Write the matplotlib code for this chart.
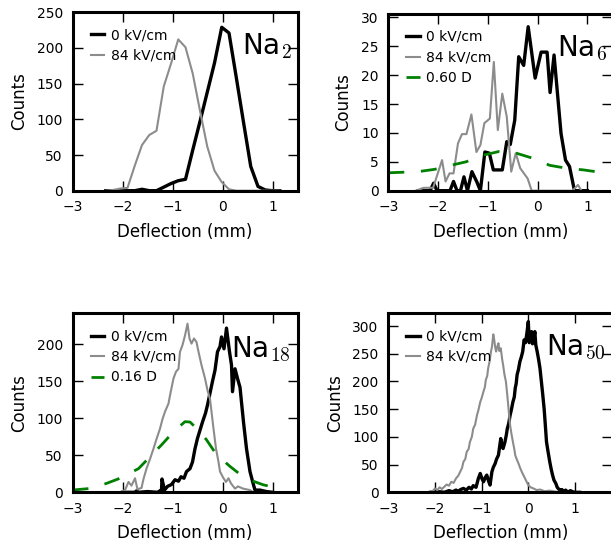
import matplotlib
matplotlib.use("Agg")
import matplotlib.pyplot as plt

plt.rcParams['font.family'] = ['DejaVu Sans']
plt.rcParams['mathtext.fontset'] = 'cm'
plt.rcParams['lines.scale_dashes'] = False

# ---------------- data ----------------
# Na2
x2 = [-2.335, -2.19, -2.045, -1.9, -1.755, -1.61, -1.465, -1.32, -1.175, -1.03,
      -0.885, -0.74, -0.595, -0.45, -0.305, -0.16, -0.015, 0.13, 0.275, 0.42,
      0.565, 0.71, 0.855, 1.0, 1.145]
y2_0kv = [0, 0, 0, 0, 0, 2, 0, 0, 5, 10, 14, 16, 57, 97, 138, 179, 229, 221, 159,
          96, 34, 6, 1, 0, 0]
y2_84kv = [0, 1, 3, 4, 35, 64, 78, 84, 146, 178, 212, 201, 164, 112, 62, 28, 12,
           2, 0, 0, 0, 0, 0, 0, 0]

# Na6
x6_0kv = [-2.40, -2.16, -2.09, -2.02, -1.76, -1.69, -1.62, -1.55, -1.48, -1.41,
          -1.32, -1.22, -1.15, -1.06, -0.97, -0.89, -0.71, -0.62, -0.55, -0.46,
          -0.38, -0.28, -0.19, -0.05, 0.07, 0.19, 0.25, 0.33, 0.47, 0.56, 0.64,
          0.74, 1.0]
y6_0kv = [0, 0, 1.3, 0, 0, 1.6, 0, 0, 2.4, 0, 3.3, 1.5, 0, 6.7, 6.5, 3.6, 3.6,
          8.5, 8.0, 12.2, 23.2, 21.7, 28.4, 19.5, 24.0, 24.0, 17.0, 23.5, 9.9,
          5.3, 4.2, 0, 0]
x6_84kv = [-2.45, -2.29, -2.10, -1.92, -1.85, -1.77, -1.69, -1.60, -1.52, -1.43,
           -1.33, -1.23, -1.15, -1.07, -0.96, -0.88, -0.80, -0.71, -0.62, -0.53,
           -0.44, -0.35, -0.20, -0.12, 0.70, 0.81, 0.88]
y6_84kv = [0, 0.5, 0.5, 5.3, 1.6, 3.0, 3.0, 8.2, 9.8, 9.8, 13.2, 6.7, 7.9, 11.7,
           12.5, 22.3, 10.5, 16.8, 12.8, 3.3, 6.5, 3.9, 2.1, 0, 0, 1.0, 0]
x6_sim = [-3.0, -2.4, -2.07, -1.74, -1.44, -1.07, -0.77, -0.43, -0.09, 0.24, 0.57,
          0.92, 1.25, 1.5]
y6_sim = [3.1, 3.3, 3.7, 4.4, 5.0, 6.2, 6.8, 6.5, 5.6, 4.4, 3.9, 3.6, 3.2, 3.0]

# Na18
x18_0kv = [-2.0, -1.75, -1.72, -1.68, -1.5, -1.3, -1.25, -1.22, -1.21, -1.16,
           -1.10, -1.02, -0.95, -0.88, -0.83, -0.77, -0.72, -0.65, -0.60, -0.55,
           -0.50, -0.45, -0.40, -0.34, -0.30, -0.25, -0.20, -0.15, -0.10, -0.05,
           -0.02, 0.03, 0.08, 0.14, 0.18, 0.20, 0.25, 0.30, 0.35, 0.42, 0.48,
           0.55, 0.62, 0.65, 0.75, 0.88, 1.0]
y18_0kv = [0, 0, 2, 0, 1, 0, 2, 3, 18, 3, 8, 10.5, 17, 15, 21, 19, 28, 32, 41, 59,
           73, 84, 95, 107, 118, 134, 150, 165, 190, 197, 210, 194, 222, 190, 172,
           136, 167, 154, 142, 95, 59, 28, 10, 3, 3, 1, 0]
x18_84kv = [-2.3, -2.05, -1.95, -1.88, -1.82, -1.75, -1.70, -1.62, -1.58, -1.52,
            -1.45, -1.38, -1.32, -1.25, -1.20, -1.15, -1.08, -1.05, -0.98, -0.93,
            -0.88, -0.85, -0.80, -0.75, -0.70, -0.66, -0.62, -0.57, -0.52, -0.48,
            -0.42, -0.35, -0.30, -0.25, -0.22, -0.18, -0.13, -0.08, -0.05, 0.02,
            0.07, 0.12, 0.17, 0.25, 0.31, 0.41, 0.55, 0.62, 0.8]
y18_84kv = [0, 0, 3, 14, 9, 19, 4, 6, 18, 32, 45, 59, 72, 86, 99, 109, 120, 131,
            154, 163, 167, 190, 199, 212, 228, 208, 201, 208, 203, 190, 172, 154,
            138, 126, 109, 86, 59, 41, 28, 19, 14, 19, 12, 5, 8, 5, 3, 0, 0]
x18_sim = [-3.0, -2.68, -2.32, -2.05, -1.68, -1.22, -0.98, -0.75, -0.65, -0.48,
           -0.32, -0.12, 0.15, 0.45, 0.82, 1.1]
y18_sim = [3, 5, 12, 19, 32, 64, 82, 95.5, 95, 84, 71, 51, 35, 19, 10, 6]

# Na50
x50_0kv = [-2.1, -1.9, -1.8, -1.7, -1.62, -1.55, -1.5, -1.45, -1.39, -1.33, -1.27,
           -1.22, -1.18, -1.12, -1.07, -1.03, -0.99, -0.96, -0.92, -0.89, -0.85,
           -0.82, -0.78, -0.75, -0.71, -0.68, -0.64, -0.61, -0.59, -0.56, -0.54,
           -0.5, -0.47, -0.45, -0.42, -0.39, -0.36, -0.33, -0.3, -0.28, -0.26,
           -0.24, -0.21, -0.18, -0.15, -0.12, -0.09, -0.06, -0.03, 0.0, 0.02,
           0.04, 0.07, 0.09, 0.11, 0.14, 0.16, 0.19, 0.22, 0.25, 0.28, 0.31, 0.34,
           0.36, 0.39, 0.42, 0.46, 0.49, 0.52, 0.55, 0.59, 0.62, 0.64, 0.68, 0.72,
           0.76, 0.8, 0.85, 0.9, 0.95, 1.0, 1.1]
y50_0kv = [0, 1, 0, 3, 1, 4, 2, 5, 7, 4, 9, 6, 12, 9, 25, 34, 24, 19, 27, 31, 20,
           13, 37, 45, 52, 60, 67, 85, 97, 82, 79, 91, 104, 115, 124, 139, 150,
           163, 172, 188, 196, 212, 222, 236, 244, 254, 275, 270, 287, 308, 270,
           278, 290, 268, 272, 290, 266, 254, 240, 224, 200, 176, 150, 127, 91,
           75, 55, 42, 31, 22, 16, 9, 7, 3, 5, 1, 4, 0, 3, 1, 0, 0]
x50_84kv = [-2.15, -2.05, -2.0, -1.95, -1.9, -1.85, -1.8, -1.75, -1.7, -1.65,
            -1.6, -1.55, -1.5, -1.46, -1.42, -1.39, -1.35, -1.32, -1.28, -1.25,
            -1.21, -1.18, -1.14, -1.1, -1.07, -1.03, -1.0, -0.96, -0.93, -0.91,
            -0.88, -0.86, -0.83, -0.8, -0.78, -0.75, -0.73, -0.71, -0.69, -0.66,
            -0.64, -0.62, -0.59, -0.56, -0.54, -0.51, -0.48, -0.45, -0.43, -0.41,
            -0.39, -0.36, -0.33, -0.3, -0.28, -0.25, -0.21, -0.18, -0.14, -0.1,
            -0.07, -0.03, 0.0, 0.05, 0.11, 0.18, 0.25, 0.35, 0.46, 0.6, 0.8, 1.0]
y50_84kv = [0, 2, 7, 4, 9, 6, 10, 14, 12, 19, 17, 25, 30, 37, 44, 55, 60, 73, 78,
            91, 100, 115, 122, 139, 148, 163, 170, 182, 190, 203, 210, 224, 236,
            254, 262, 285, 275, 262, 254, 264, 269, 255, 260, 240, 230, 212, 200,
            175, 157, 138, 121, 105, 91, 78, 67, 60, 52, 45, 37, 30, 25, 18, 13,
            9, 7, 4, 5, 2, 3, 1, 0, 0]

field_labels = ['0 kV/cm', '84 kV/cm']
sim_labels = {'Na6': '0.60 D', 'Na18': '0.16 D'}
x_ticks = [-3, -2, -1, 0, 1]

# ---------------- figure ----------------
fig = plt.figure(figsize=(6.11, 5.44), dpi=100)

W, H = 611.0, 544.0
def pos(l, r, t, b):
    return [l / W, (H - b) / H, (r - l) / W, (b - t) / H]

panels = [
    dict(rect=pos(72.5, 297.5, 12.3, 190.7), name='Na$_{2}$', xs=(x2, x2),
         ys=(y2_0kv, y2_84kv), sim=None, xlim=(-3, 1.5), ylim=(0, 250),
         yticks=[0, 50, 100, 150, 200, 250], txt=(0.752, 0.762)),
    dict(rect=pos(388.3, 612.3, 14.0, 190.7), name='Na$_{6}$', xs=(x6_0kv, x6_84kv),
         ys=(y6_0kv, y6_84kv), sim=(x6_sim, y6_sim, sim_labels['Na6']),
         xlim=(-3, 1.5), ylim=(0, 30.6), yticks=[0, 5, 10, 15, 20, 25, 30],
         txt=(0.754, 0.762)),
    dict(rect=pos(72.5, 297.5, 313.3, 492.3), name='Na$_{18}$', xs=(x18_0kv, x18_84kv),
         ys=(y18_0kv, y18_84kv), sim=(x18_sim, y18_sim, sim_labels['Na18']),
         xlim=(-3, 1.5), ylim=(0, 242), yticks=[0, 50, 100, 150, 200],
         txt=(0.703, 0.757)),
    dict(rect=pos(388.3, 612.3, 313.3, 492.3), name='Na$_{50}$', xs=(x50_0kv, x50_84kv),
         ys=(y50_0kv, y50_84kv), sim=None, xlim=(-3, 1.8), ylim=(0, 323),
         yticks=[0, 50, 100, 150, 200, 250, 300], txt=(0.703, 0.767)),
]

for p in panels:
    ax = fig.add_axes(p['rect'])
    ax.plot(p['xs'][0], p['ys'][0], color='black', lw=2.4, label=field_labels[0])
    ax.plot(p['xs'][1], p['ys'][1], color='#8c8c8c', lw=1.5, label=field_labels[1])
    if p['sim'] is not None:
        sx, sy, slab = p['sim']
        ax.plot(sx, sy, color='green', lw=2.0, linestyle=(0, (11.5, 12.0)),
                label=slab)
    ax.set_xlim(*p['xlim'])
    ax.set_ylim(*p['ylim'])
    ax.set_xticks(x_ticks)
    ax.set_yticks(p['yticks'])
    ax.tick_params(direction='in', top=True, right=True, length=7, width=1,
                   pad=7, labelsize=10)
    for s in ax.spines.values():
        s.set_linewidth(2.2)
    ax.set_xlabel('Deflection (mm)', fontsize=12, labelpad=6)
    ax.set_ylabel('Counts', fontsize=12, labelpad=6)
    ax.text(p['txt'][0], p['txt'][1], p['name'], transform=ax.transAxes,
            fontsize=20, ha='left', va='baseline')
    ax.legend(loc='upper left', bbox_to_anchor=(0.08, 0.91), frameon=False,
              fontsize=10, handlelength=1.0, handletextpad=0.45, borderpad=0,
              borderaxespad=0, labelspacing=0.47)

fig.savefig('out.png', dpi=100)
